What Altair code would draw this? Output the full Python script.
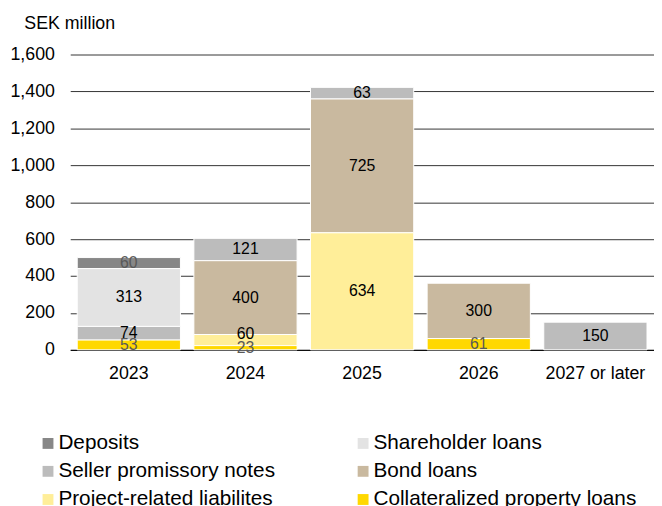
import altair as alt
import pandas as pd

years = ["2023", "2024", "2025", "2026", "2027 or later"]
series = ["Deposits", "Shareholder loans", "Seller promissory notes",
          "Bond loans", "Project-related liabilites", "Collateralized property loans"]
colors = ["#878787", "#e3e3e3", "#bcbcbc", "#c9b99f", "#ffee99", "#ffd800"]
# stacking order from bottom (0) to top
stack_rank = [5, 4, 3, 2, 1, 0]
label_colors = ["#595959", "#000000", "#000000", "#000000", "#000000", "#595959"]
# legend listing order (filled column by column)
legend_order = [0, 2, 4, 1, 3, 5]

deposits = [60, 0, 0, 0, 0]
shareholder = [313, 0, 0, 0, 0]
seller = [74, 121, 63, 0, 150]
bond = [0, 400, 725, 300, 0]
project = [0, 60, 634, 0, 0]
collateral = [53, 23, 0, 61, 0]

values = [deposits, shareholder, seller, bond, project, collateral]

rows = []
for i, s in enumerate(series):
    for j, y in enumerate(years):
        v = values[i][j]
        if v > 0:
            rows.append({"year": y, "series": s, "value": v,
                         "rank": stack_rank[i], "lc": label_colors[i]})
df = pd.DataFrame(rows)

leg_domain = [series[k] for k in legend_order]
leg_range = [colors[k] for k in legend_order]

FONT = "Liberation Sans"

x = alt.X("year:N", sort=years, title=None,
          scale=alt.Scale(paddingInner=0.115, paddingOuter=0.06),
          axis=alt.Axis(labelAngle=0, ticks=False, domain=True, domainColor="#000000",
                        domainWidth=1, labelFontSize=18, labelPadding=15,
                        labelColor="#000000", labelFont=FONT, grid=False))

y_axis = alt.Axis(values=[0, 200, 400, 600, 800, 1000, 1200, 1400, 1600],
                  format=",d", domain=False, ticks=False, labelOverlap=False,
                  labelFontSize=18, labelPadding=16, labelColor="#000000",
                  labelFont=FONT,
                  gridColor="#333333", gridWidth=1,
                  titleAngle=0, titleAlign="left", titleBaseline="alphabetic",
                  titleX=-47, titleY=-26, titleFontSize=18,
                  titleFontWeight="normal", titleFont=FONT,
                  titleColor="#000000")
y_scale = alt.Scale(domain=[0, 1600])

base = alt.Chart(df).transform_stack(
    stack="value", groupby=["year"], as_=["y0", "y1"],
    sort=[alt.SortField("rank", order="ascending")]
).transform_calculate(
    mid="(datum.y0 + datum.y1) / 2 + ((datum.series == 'Project-related liabilites' && datum.value < 100) ? 35 : 0)"
)

bars = base.mark_bar(stroke="white", strokeWidth=1).encode(
    x=x,
    y=alt.Y("y0:Q", title="SEK million", scale=y_scale, axis=y_axis),
    y2="y1:Q",
    color=alt.Color("series:N",
                    scale=alt.Scale(domain=leg_domain, range=leg_range),
                    legend=alt.Legend(title=None, orient="none", legendX=-33,
                                      legendY=383, columns=2, symbolType="square",
                                      symbolSize=121, symbolStrokeWidth=0,
                                      symbolOffset=0, padding=0,
                                      labelFontSize=21, labelFont=FONT,
                                      labelColor="#000000", labelOffset=0,
                                      rowPadding=6.5, columnPadding=78,
                                      labelLimit=400)),
)

labels = base.mark_text(fontSize=16, font=FONT, baseline="middle").encode(
    x=x,
    y=alt.Y("mid:Q", title="SEK million", scale=y_scale, axis=y_axis),
    text=alt.Text("value:Q"),
    color=alt.Color("lc:N", scale=None, legend=None),
)

chart = alt.layer(bars, labels).properties(
    width=591, height=299,
    padding={"left": 63, "top": 44, "right": 0, "bottom": 155},
    autosize=alt.AutoSizeParams(type="none"),
).configure_view(stroke=None)

chart.save("out.html", embed_options={"renderer": "svg", "actions": False})
